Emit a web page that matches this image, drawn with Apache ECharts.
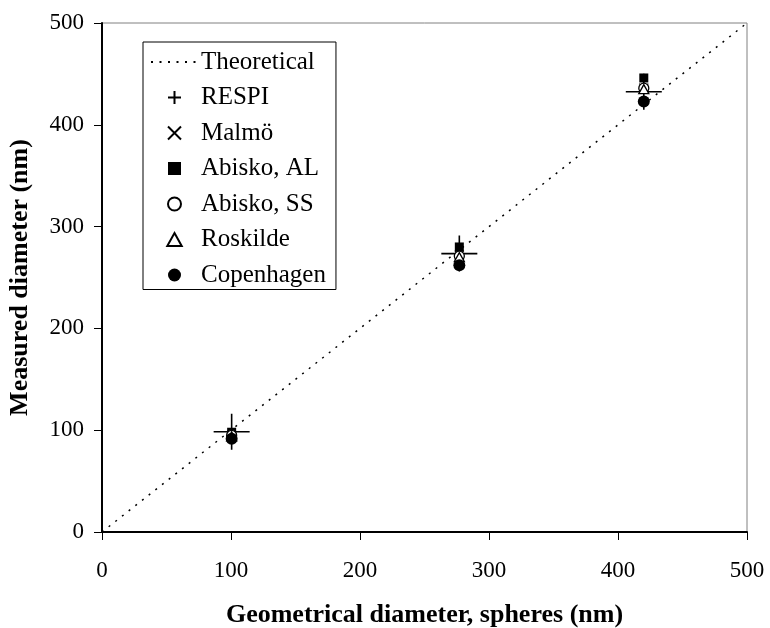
<!DOCTYPE html>
<html>
<head>
<meta charset="utf-8">
<script src="https://cdn.jsdelivr.net/npm/echarts@6/dist/echarts.min.js"></script>
<style>html,body{margin:0;padding:0;background:#fff}#c{width:770px;height:628px}</style>
</head>
<body>
<div id="c"></div>
<script>
const xTicks = [0, 100, 200, 300, 400, 500];
const theoreticalX = [0, 500];
const theoreticalY = [0, 500];
const geometrical = [100.5, 277, 420];
const respi = [98.5, 273.5, 432.5];
const malmo = [95, 272, 436];
const abiskoAL = [98, 280, 446];
const abiskoSS = [95, 271, 436];
const roskilde = [94, 270, 435];
const copenhagen = [91.5, 262, 423];

const FONT = '"Liberation Serif", "DejaVu Serif", serif';
const pair = (ys) => geometrical.map((x, i) => [x, ys[i]]);

const chart = echarts.init(document.getElementById('c'), null, {renderer: 'canvas'});
chart.setOption({
  animation: false,
  backgroundColor: '#fff',
  grid: {left: 102, right: 23, top: 23, bottom: 96, show: true, borderColor: '#808080', borderWidth: 1,
         containLabel: false, outerBoundsMode: 'none'},
  xAxis: {
    type: 'value', min: 0, max: 500, interval: 100,
    name: 'Geometrical diameter, spheres (nm)', nameLocation: 'middle', nameGap: 70,
    nameTextStyle: {fontFamily: FONT, fontSize: 26, fontWeight: 'bold', color: '#000'},
    axisLine: {show: true, lineStyle: {color: '#000', width: 2}},
    axisTick: {show: true, inside: false, length: 8, lineStyle: {color: '#000', width: 1}},
    axisLabel: {fontFamily: FONT, fontSize: 23, color: '#000', margin: 27},
    splitLine: {show: false}
  },
  yAxis: {
    type: 'value', min: 0, max: 500, interval: 100,
    name: 'Measured diameter (nm)', nameLocation: 'middle', nameGap: 69,
    nameTextStyle: {fontFamily: FONT, fontSize: 26, fontWeight: 'bold', color: '#000'},
    axisLine: {show: true, lineStyle: {color: '#000', width: 2}},
    axisTick: {show: true, inside: false, length: 8, lineStyle: {color: '#000', width: 1}},
    axisLabel: {fontFamily: FONT, fontSize: 23, color: '#000', margin: 18},
    splitLine: {show: false}
  },
  legend: {
    orient: 'vertical', left: 143, top: 42,
    padding: [7.5, 10, 2, 7],
    backgroundColor: '#fff', borderColor: '#000', borderWidth: 1,
    itemWidth: 47, itemHeight: 13, itemGap: 10.5,
    symbolKeepAspect: true,
    textStyle: {fontFamily: FONT, fontSize: 25, color: '#000', padding: [0, 0, 0, -2]},
    data: [
      {name: 'Theoretical', itemStyle: {color: 'rgba(0,0,0,0)', borderWidth: 0}},
      'RESPI', 'Malmö', 'Abisko, AL', 'Abisko, SS', 'Roskilde', 'Copenhagen'
    ]
  },
  series: [
    {
      name: 'Theoretical', type: 'line', showSymbol: false, symbol: 'none',
      data: theoreticalX.map((x, i) => [x, theoreticalY[i]]),
      itemStyle: {color: 'rgba(0,0,0,0)'},
      lineStyle: {color: '#000', width: 1.5, type: [2, 6.5]}, z: 1
    },
    {
      name: 'Abisko, AL', type: 'scatter', symbol: 'path://M-1,-1 L1,-1 L1,1 L-1,1 Z', symbolSize: 9,
      symbolKeepAspect: true,
      data: pair(abiskoAL), itemStyle: {color: '#000', opacity: 1}, z: 2
    },
    {
      name: 'RESPI', type: 'scatter', symbol: 'path://M0,-10 L0,10 M-10,0 L10,0', symbolSize: 36,
      data: pair(respi), itemStyle: {color: 'none', borderColor: '#000', borderWidth: 1.6, opacity: 1}, z: 3
    },
    {
      name: 'Malmö', type: 'scatter', symbol: 'path://M-10,-10 L10,10 M-10,10 L10,-10', symbolSize: 9,
      data: pair(malmo), itemStyle: {color: 'none', borderColor: '#000', borderWidth: 1.3, opacity: 1}, z: 4
    },
    {
      name: 'Abisko, SS', type: 'scatter', symbol: 'circle', symbolSize: 10,
      data: pair(abiskoSS), itemStyle: {color: '#fff', borderColor: '#000', borderWidth: 1.3, opacity: 1}, z: 5
    },
    {
      name: 'Roskilde', type: 'scatter', symbol: 'path://M0,-1 L1,0.8 L-1,0.8 Z', symbolSize: 10,
      symbolKeepAspect: true,
      data: pair(roskilde), itemStyle: {color: '#fff', borderColor: '#000', borderWidth: 1.3, opacity: 1}, z: 6
    },
    {
      name: 'Copenhagen', type: 'scatter', symbol: 'circle', symbolSize: 12,
      data: pair(copenhagen), itemStyle: {color: '#000', opacity: 1}, z: 7
    }
  ]
});
</script>
</body>
</html>
